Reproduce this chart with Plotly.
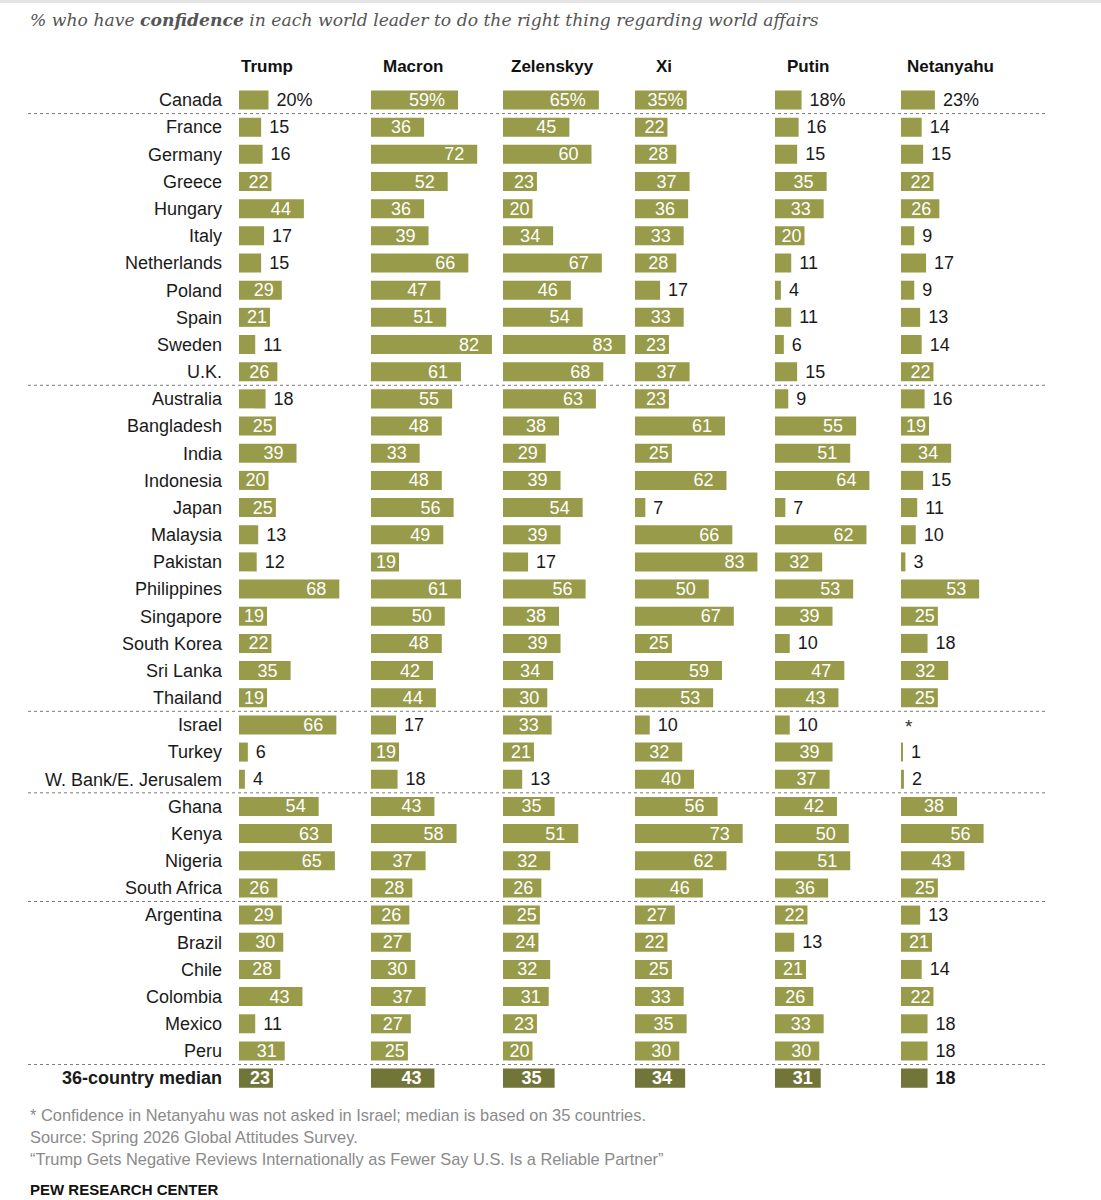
import plotly.graph_objects as go

countries = ["Canada", "France", "Germany", "Greece", "Hungary", "Italy", "Netherlands", "Poland",
             "Spain", "Sweden", "U.K.", "Australia", "Bangladesh", "India", "Indonesia", "Japan",
             "Malaysia", "Pakistan", "Philippines", "Singapore", "South Korea", "Sri Lanka", "Thailand",
             "Israel", "Turkey", "W. Bank/E. Jerusalem", "Ghana", "Kenya", "Nigeria", "South Africa",
             "Argentina", "Brazil", "Chile", "Colombia", "Mexico", "Peru", "36-country median"]

leaders = ["Trump", "Macron", "Zelenskyy", "Xi", "Putin", "Netanyahu"]

trump = [20, 15, 16, 22, 44, 17, 15, 29, 21, 11, 26, 18, 25, 39, 20, 25, 13, 12, 68, 19, 22, 35, 19,
         66, 6, 4, 54, 63, 65, 26, 29, 30, 28, 43, 11, 31, 23]
macron = [59, 36, 72, 52, 36, 39, 66, 47, 51, 82, 61, 55, 48, 33, 48, 56, 49, 19, 61, 50, 48, 42, 44,
          17, 19, 18, 43, 58, 37, 28, 26, 27, 30, 37, 27, 25, 43]
zelenskyy = [65, 45, 60, 23, 20, 34, 67, 46, 54, 83, 68, 63, 38, 29, 39, 54, 39, 17, 56, 38, 39, 34, 30,
             33, 21, 13, 35, 51, 32, 26, 25, 24, 32, 31, 23, 20, 35]
xi = [35, 22, 28, 37, 36, 33, 28, 17, 33, 23, 37, 23, 61, 25, 62, 7, 66, 83, 50, 67, 25, 59, 53,
      10, 32, 40, 56, 73, 62, 46, 27, 22, 25, 33, 35, 30, 34]
putin = [18, 16, 15, 35, 33, 20, 11, 4, 11, 6, 15, 9, 55, 51, 64, 7, 62, 32, 53, 39, 10, 47, 43,
         10, 39, 37, 42, 50, 51, 36, 22, 13, 21, 26, 33, 30, 31]
netanyahu = [23, 14, 15, 22, 26, 9, 17, 9, 13, 14, 22, 16, 19, 34, 15, 11, 10, 3, 53, 25, 18, 32, 25,
             None, 1, 2, 38, 56, 43, 25, 13, 21, 14, 22, 18, 18, 18]

series = [trump, macron, zelenskyy, xi, putin, netanyahu]

# rows after which a dotted separator is drawn (regional groups)
group_ends = ["Canada", "U.K.", "Thailand", "W. Bank/E. Jerusalem", "South Africa", "Peru"]

footnotes = [
    "* Confidence in Netanyahu was not asked in Israel; median is based on 35 countries.",
    "Source: Spring 2026 Global Attitudes Survey.",
    "\u201cTrump Gets Negative Reviews Internationally as Fewer Say U.S. Is a Reliable Partner\u201d",
]
title_html = "% who have <b>confidence</b> in each world leader to do the right thing regarding world affairs"

# ---------- layout constants ----------
W, H = 1101, 1200
BAR = "#989b4a"
MED = "#727538"
FONT = "Liberation Sans"
VSIZE = 18
col_left_px = [239, 371, 503, 635, 775, 901]
header_px = [239, 381, 509, 654, 785, 905]
px_per_unit = 1.475
xr = 85
n = len(countries)
row0_px, row_step = 100, 27.17
top_px = row0_px - row_step / 2
bot_px = top_px + n * row_step


def text_w(s):
    return sum(0.889 * VSIZE if ch == "%" else 0.556 * VSIZE for ch in s)


fig = go.Figure()
nbsp = "\u00a0"
for c, vals in enumerate(series):
    texts, pos, tcol, colors, xs, ys = [], [], [], [], [], []
    for i, v in enumerate(vals):
        if v is None:
            continue
        is_med = i == n - 1
        raw = f"{v}%" if i == 0 else str(v)
        lab = f"<b>{raw}</b>" if is_med else raw
        inside = v >= 19 and (i != 0 or v >= 30)
        if inside:
            room = v * px_per_unit - text_w(raw)
            pad = 2 if room >= 26 else (1 if room >= 17 else 0)
            texts.append(lab + nbsp * pad)
            pos.append("inside")
            tcol.append("white")
        else:
            texts.append(nbsp + lab)
            pos.append("outside")
            tcol.append("#1a1a1a")
        colors.append(MED if is_med else BAR)
        xs.append(v)
        ys.append(i)
    axn = "" if c == 0 else str(c + 1)
    fig.add_trace(go.Bar(
        x=xs, y=ys, orientation="h", width=0.7,
        marker=dict(color=colors, line=dict(width=0)),
        text=texts, textposition=pos, insidetextanchor="end",
        textfont=dict(family=FONT, size=VSIZE, color=tcol),
        constraintext="none", textangle=0, cliponaxis=False,
        hoverinfo="skip", showlegend=False,
        xaxis="x" + axn, yaxis="y",
    ))
    d0 = col_left_px[c] / W
    d1 = (col_left_px[c] + xr * px_per_unit) / W
    fig.layout["xaxis" + axn] = dict(domain=[d0, d1], range=[0, xr], visible=False,
                                     anchor="y", fixedrange=True)

fig.update_layout(
    width=W, height=H, autosize=False,
    margin=dict(l=0, r=0, t=0, b=0),
    paper_bgcolor="white", plot_bgcolor="rgba(0,0,0,0)",
    yaxis=dict(domain=[1 - bot_px / H, 1 - top_px / H], range=[n - 0.5, -0.5],
               tickvals=list(range(n)),
               ticktext=countries[:-1] + ["<b>" + countries[-1] + "</b>"],
               tickfont=dict(family=FONT, size=18, color="#1a1a1a"),
               ticks="", showgrid=False, zeroline=False, showline=False,
               ticklabelstandoff=16, anchor="x", fixedrange=True),
)

# separators
for name in group_ends:
    yb = countries.index(name) + 0.5
    fig.add_shape(type="line", xref="paper", yref="y", x0=28 / W, x1=1047 / W, y0=yb, y1=yb,
                  line=dict(color="#7a7a7a", width=1, dash="dot"))

# top thin band
fig.add_shape(type="rect", xref="paper", yref="paper", x0=0, x1=1, y0=1 - 3 / H, y1=1,
              fillcolor="#e4e4e4", line=dict(width=0), layer="below")

# headers
for c, name in enumerate(leaders):
    fig.add_annotation(x=header_px[c] / W, y=1 - 67 / H, xref="paper", yref="paper",
                       text=f"<b>{name}</b>", showarrow=False, xanchor="left", yanchor="middle",
                       font=dict(family=FONT, size=17, color="#111"))

# asterisk for Israel / Netanyahu
fig.add_annotation(x=0, y=countries.index("Israel"), xref="x6", yref="y", text="*",
                   showarrow=False, xanchor="left", yanchor="middle", xshift=2, yshift=-2,
                   font=dict(family=FONT, size=19, color="#333"))

# title
fig.add_annotation(x=28 / W, y=1 - 20 / H, xref="paper", yref="paper", text=title_html,
                   showarrow=False, xanchor="left", yanchor="middle",
                   font=dict(family="DejaVu Serif", size=17.2, color="#555", style="italic"))

# footnotes
for k, t in enumerate(footnotes):
    fig.add_annotation(x=28 / W, y=1 - (1115 + 22 * k) / H, xref="paper", yref="paper", text=t,
                       showarrow=False, xanchor="left", yanchor="middle",
                       font=dict(family=FONT, size=16.4, color="#8a8a8a"))
fig.add_annotation(x=28 / W, y=1 - 1189 / H, xref="paper", yref="paper",
                   text="<b>PEW RESEARCH CENTER</b>", showarrow=False, xanchor="left",
                   yanchor="middle", font=dict(family=FONT, size=15, color="#111"))

fig.write_html("out.html")
